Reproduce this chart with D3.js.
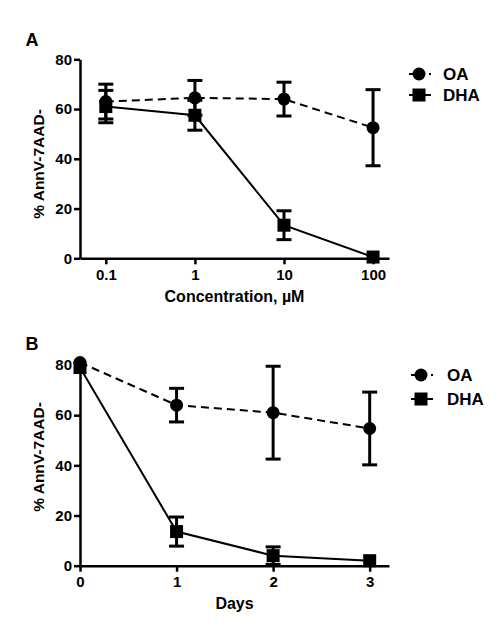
<!DOCTYPE html>
<html>
<head>
<meta charset="utf-8">
<script src="https://cdn.jsdelivr.net/npm/d3@7"></script>
<style>
  html, body { margin: 0; padding: 0; background: #fff; }
  svg { display: block; font-family: "Liberation Sans", Arial, sans-serif; font-weight: bold; }
</style>
</head>
<body>
<svg id="chart" width="500" height="631"></svg>
<script>
// ---------- Data ----------
const seriesNames = ["OA", "DHA"];

// Panel A: concentration (µM)
const concA = [0.1, 1, 10, 100];
const oaA = [63, 64.5, 64, 52.5];
const oaAErr = [7, 7, 6.8, 15.3];
const dhaA = [61, 57.5, 13.3, 0.5];
const dhaAErr = [6.5, 6, 5.8, 0];
const xTicksA = [0.1, 1, 10, 100];
const xTickLabelsA = ["0.1", "1", "10", "100"];

// Panel B: days
const daysB = [0, 1, 2, 3];
const oaB = [81, 64, 61, 54.7];
const oaBErr = [0, 6.7, 18.5, 14.5];
const dhaB = [79, 13.6, 4, 2];
const dhaBErr = [0, 5.8, 3.5, 0];
const xTicksB = [0, 1, 2, 3];

const yTicks = [0, 20, 40, 60, 80];
const yLabel = "% AnnV-7AAD-";

// ---------- Drawing ----------
const svg = d3.select("#chart");

function panel(cfg) {
  const g = svg.append("g");
  const x = cfg.x, y = cfg.y;

  // axes
  const yAxis = d3.axisLeft(y).tickValues(yTicks).tickSizeInner(6).tickSizeOuter(0).tickPadding(2);
  const xAxis = d3.axisBottom(x).tickValues(cfg.xTicks).tickSizeInner(6).tickSizeOuter(0).tickPadding(5)
    .tickFormat((d, i) => cfg.xTickLabels[i]);

  const gx = g.append("g").attr("transform", `translate(0,${y(0)})`).call(xAxis);
  const gy = g.append("g").attr("transform", `translate(${x.range()[0]},0)`).call(yAxis);
  [gx, gy].forEach(a => {
    a.select(".domain").attr("stroke", "#000").attr("stroke-width", 2.5);
    a.selectAll(".tick line").attr("stroke", "#000").attr("stroke-width", 2.5);
    a.selectAll(".tick text").attr("fill", "#000").attr("font-size", 15)
      .attr("font-weight", "bold").attr("font-family", "Liberation Sans, Arial, sans-serif");
  });

  // series
  const series = [
    { name: "DHA", xs: cfg.xs, ys: cfg.dha, err: cfg.dhaErr, dash: null, shape: "square" },
    { name: "OA", xs: cfg.xs, ys: cfg.oa, err: cfg.oaErr, dash: "8,5", shape: "circle" }
  ];
  const line = d3.line().x(d => x(d[0])).y(d => y(d[1]));

  series.forEach(s => {
    const pts = s.xs.map((v, i) => [v, s.ys[i], s.err[i]]);
    g.append("path").attr("d", line(pts)).attr("fill", "none").attr("stroke", "#000")
      .attr("stroke-width", 2).attr("stroke-dasharray", s.dash);
    pts.forEach(p => {
      if (p[2] > 0) {
        const cx = x(p[0]), y1 = y(p[1] + p[2]), y2 = y(p[1] - p[2]);
        g.append("line").attr("x1", cx).attr("x2", cx).attr("y1", y1).attr("y2", y2)
          .attr("stroke", "#000").attr("stroke-width", 3);
        [y1, y2].forEach(yy => g.append("line").attr("x1", cx - 7.5).attr("x2", cx + 7.5)
          .attr("y1", yy).attr("y2", yy).attr("stroke", "#000").attr("stroke-width", 3));
      }
    });
  });
  series.forEach(s => {
    s.xs.forEach((v, i) => drawMarker(g, s.shape, x(v), y(s.ys[i])));
  });

  // labels
  g.append("text").attr("x", 32).attr("y", cfg.titleY).attr("font-size", 18)
    .attr("text-anchor", "middle").attr("dominant-baseline", "central").text(cfg.title);
  g.append("text").attr("transform", `translate(${cfg.yLabelX},${cfg.yLabelY}) rotate(-90)`)
    .attr("font-size", 15.5).attr("text-anchor", "middle").attr("dominant-baseline", "central").text(yLabel);
  g.append("text").attr("x", (x.range()[0] + x.range()[1]) / 2).attr("y", y(0) + 38)
    .attr("font-size", 16).attr("text-anchor", "middle").attr("dominant-baseline", "central").text(cfg.xLabel);

  // legend
  const leg = [
    { name: "OA", shape: "circle", dash: "6,4" },
    { name: "DHA", shape: "square", dash: null }
  ];
  leg.forEach((l, i) => {
    const ly = cfg.legY + i * cfg.legDy;
    g.append("line").attr("x1", cfg.legX - 10).attr("x2", cfg.legX + 12).attr("y1", ly).attr("y2", ly)
      .attr("stroke", "#000").attr("stroke-width", 2).attr("stroke-dasharray", l.dash);
    drawMarker(g, l.shape, cfg.legX, ly);
    g.append("text").attr("x", cfg.legTextX).attr("y", ly).attr("font-size", 17)
      .attr("dominant-baseline", "central").text(l.name);
  });
}

function drawMarker(g, shape, cx, cy) {
  if (shape === "circle") {
    g.append("circle").attr("cx", cx).attr("cy", cy).attr("r", 6.5).attr("fill", "#000");
  } else {
    g.append("rect").attr("x", cx - 6.5).attr("y", cy - 6.5).attr("width", 13).attr("height", 13).attr("fill", "#000");
  }
}

panel({
  title: "A", titleY: 40,
  x: d3.scaleLog().domain([0.0513, 151]).range([80, 389]),
  y: d3.scaleLinear().domain([0, 80]).range([258.3, 59.3]),
  xs: concA, oa: oaA, oaErr: oaAErr, dha: dhaA, dhaErr: dhaAErr,
  xTicks: xTicksA, xTickLabels: xTickLabelsA,
  xLabel: "Concentration, µM",
  yLabelX: 38, yLabelY: 164,
  legX: 419, legY: 74, legDy: 21, legTextX: 443
});

panel({
  title: "B", titleY: 344,
  x: d3.scaleLinear().domain([0, 3.2]).range([80, 389]),
  y: d3.scaleLinear().domain([0, 80]).range([565.7, 365]),
  xs: daysB, oa: oaB, oaErr: oaBErr, dha: dhaB, dhaErr: dhaBErr,
  xTicks: xTicksB, xTickLabels: xTicksB.map(String),
  xLabel: "Days",
  yLabelX: 38, yLabelY: 457,
  legX: 421, legY: 375, legDy: 24, legTextX: 447
});
</script>
</body>
</html>
